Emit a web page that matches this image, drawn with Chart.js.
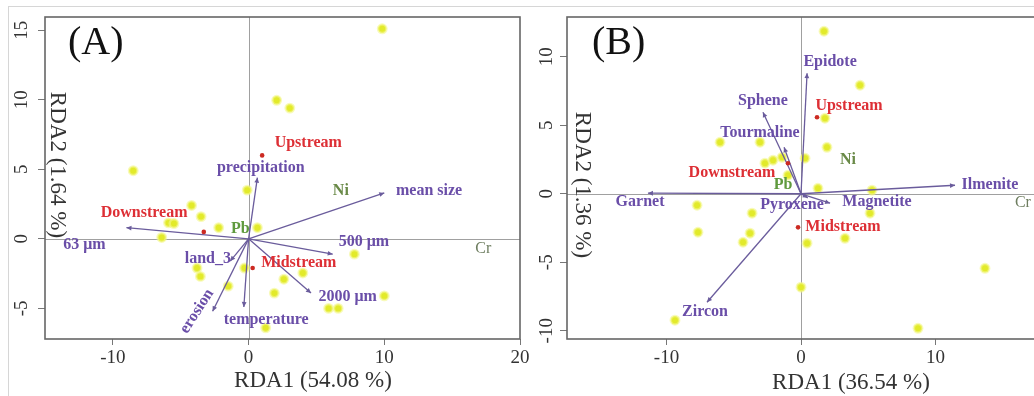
<!DOCTYPE html>
<html><head><meta charset="utf-8">
<script src="https://cdn.jsdelivr.net/npm/chart.js@4.4.1/dist/chart.umd.min.js"></script>
<style>
html,body{margin:0;padding:0;background:#fff;overflow:hidden;width:1034px;height:396px;position:relative;}
#frame{position:absolute;left:8px;top:6px;width:1100px;height:400px;border-left:1px solid #d6d6d6;border-top:1px solid #d6d6d6;}
#wa{position:absolute;left:0;top:0;}
#wb{position:absolute;left:520px;top:0;}
canvas{display:block;}
</style></head><body>
<div id="frame"></div>
<div id="wb"><canvas id="cb" width="560" height="396"></canvas></div>
<div id="wa"><canvas id="ca" width="540" height="396"></canvas></div>
<script>
// ---------- Panel A data ----------
const xTicksA = [-10, 0, 10, 20];
const yTicksA = [-5, 0, 5, 10, 15];
const siteAX = [9.85, 2.07, 3.04, -8.5, -0.1, -4.2, -3.5, -5.9, -5.5, -2.2, 0.65, -6.4, -3.8, -3.55, -0.3, -1.5, 1.9, 1.26, 2.6, 4.0, 7.8, 10.0, 5.9, 6.6];
const siteAY = [15.1, 9.96, 9.4, 4.9, 3.5, 2.4, 1.6, 1.15, 1.1, 0.8, 0.8, 0.1, -2.1, -2.7, -2.1, -3.4, -3.9, -6.4, -2.9, -2.45, -1.1, -4.1, -5.0, -5.0];
const groupNames = ['Upstream', 'Downstream', 'Midstream'];
const centroidAX = [1.0, -3.3, 0.3];
const centroidAY = [6.0, 0.5, -2.1];
const groupLabAX = [4.4, -7.7, 3.7];
const groupLabAY = [6.9, 1.9, -1.75];
const envNamesA = ['precipitation', 'mean size', '500 μm', '2000 μm', 'temperature', 'erosion', 'land_3', '63 μm'];
const envTipAX = [0.65, 10.0, 6.2, 4.6, -0.35, -2.65, -1.35, -9.0];
const envTipAY = [4.4, 3.3, -1.1, -3.9, -4.9, -5.2, -1.6, 0.8];
const envLabAX = [0.9, 13.3, 8.5, 7.3, 1.3, -3.8, -3.0, -12.1];
const envLabAY = [5.1, 3.45, -0.2, -4.2, -5.8, -5.2, -1.45, -0.45];
const envRotA = [0, 0, 0, 0, 0, -57, 0, 0];
const metalNames = ['Ni', 'Pb', 'Cr'];
const metalAX = [6.8, -0.6, 17.3];
const metalAY = [3.45, 0.7, -0.7];

// ---------- Panel B data ----------
const xTicksB = [-10, 0, 10];
const yTicksB = [-10, -5, 0, 5, 10];
const siteBX = [1.71, 4.39, 1.78, 1.93, -6.02, -3.05, -2.68, -2.08, -1.41, 0.3, -0.97, 1.26, 5.28, -7.73, -7.66, -3.64, -3.79, -4.31, 0.45, 3.27, 5.13, 0.0, -9.37, 8.7, 13.68];
const siteBY = [11.86, 7.92, 5.51, 3.39, 3.76, 3.76, 2.23, 2.45, 2.66, 2.59, 1.35, 0.4, 0.26, -0.84, -2.81, -1.42, -2.88, -3.54, -3.61, -3.25, -1.42, -6.82, -9.23, -9.82, -5.44];
const centroidBX = [1.19, -0.97, -0.22];
const centroidBY = [5.58, 2.23, -2.45];
const groupLabBX = [3.57, -5.13, 3.12];
const groupLabBY = [6.39, 1.5, -2.45];
const envNamesB = ['Epidote', 'Sphene', 'Tourmaline', 'Ilmenite', 'Garnet', 'Magnetite', 'Pyroxene', 'Zircon'];
const envTipBX = [0.45, -2.83, -1.26, 11.45, -11.38, 2.16, 0.5, -6.99];
const envTipBY = [8.8, 5.95, 3.39, 0.62, 0.04, -0.69, -0.3, -7.92];
const envLabBX = [2.16, -2.83, -3.05, 14.05, -11.97, 5.65, -0.67, -7.14];
const envLabBY = [9.6, 6.75, 4.41, 0.62, -0.62, -0.62, -0.84, -8.65];
const envRotB = [0, 0, 0, 0, 0, 0, 0, 0];
const metalBX = [3.49, -1.34, 16.5];
const metalBY = [2.45, 0.62, -0.69];

// ---------- styles ----------
const SERIF = '"Liberation Serif", "DejaVu Serif", serif';
const PURPLE = '#6a4ea8';
const ARROW = '#6a5c9c';
const RED = '#dd2f35';
const GREENS = ['#6a8a48', '#5f9a3e', '#6e7e60'];

const biplot = {
  id: 'biplot',
  beforeDatasetsDraw(chart, args, o) {
    const {ctx, chartArea: a, scales: {x, y}} = chart;
    ctx.save();
    ctx.strokeStyle = '#a0a0a0';
    ctx.lineWidth = 1;
    const px = Math.round(x.getPixelForValue(0)) + 0.5;
    const py = Math.round(y.getPixelForValue(0)) + 0.5;
    ctx.beginPath();
    ctx.moveTo(px, a.top); ctx.lineTo(px, a.bottom);
    ctx.moveTo(a.left, py); ctx.lineTo(a.right, py);
    ctx.stroke();
    ctx.restore();
  },
  afterDatasetsDraw(chart, args, o) {
    const {ctx, chartArea: a, scales: {x, y}} = chart;
    ctx.save();
    // arrowheads
    chart.data.datasets.forEach((ds, i) => {
      if (!ds.isArrow) return;
      const m = chart.getDatasetMeta(i);
      const p0 = m.data[0], p1 = m.data[1];
      const ang = Math.atan2(p1.y - p0.y, p1.x - p0.x);
      const L = 5, W = 2.4;
      ctx.fillStyle = ARROW;
      ctx.beginPath();
      ctx.moveTo(p1.x, p1.y);
      ctx.lineTo(p1.x - L * Math.cos(ang) + W * Math.sin(ang), p1.y - L * Math.sin(ang) - W * Math.cos(ang));
      ctx.lineTo(p1.x - L * Math.cos(ang) - W * Math.sin(ang), p1.y - L * Math.sin(ang) + W * Math.cos(ang));
      ctx.closePath();
      ctx.fill();
    });
    // text labels
    ctx.textAlign = 'center';
    ctx.textBaseline = 'middle';
    o.labels.forEach(l => {
      ctx.save();
      ctx.translate(x.getPixelForValue(l.x), y.getPixelForValue(l.y));
      if (l.rot) ctx.rotate(l.rot * Math.PI / 180);
      ctx.font = (l.bold ? 'bold ' : '') + '16px ' + SERIF;
      ctx.fillStyle = l.color;
      ctx.fillText(l.text, 0, 0);
      ctx.restore();
    });
    // plot frame
    ctx.strokeStyle = '#666';
    ctx.lineWidth = 1.6;
    ctx.strokeRect(a.left, a.top, a.right - a.left, a.bottom - a.top);
    // rotated y tick labels
    ctx.fillStyle = '#333';
    ctx.font = '19px ' + SERIF;
    y.ticks.forEach(t => {
      ctx.save();
      ctx.translate(o.yTickX, y.getPixelForValue(t.value));
      ctx.rotate(-Math.PI / 2);
      ctx.fillText(String(t.value), 0, 0);
      ctx.restore();
    });
    // axis titles and panel letter
    ctx.font = '23px ' + SERIF;
    ctx.fillText(o.xTitle, o.xTitlePos[0], o.xTitlePos[1]);
    ctx.save();
    ctx.translate(o.yTitlePos[0], o.yTitlePos[1]);
    ctx.rotate(Math.PI / 2);
    ctx.fillText(o.yTitle, 0, 0);
    ctx.restore();
    ctx.font = '40px ' + SERIF;
    ctx.textAlign = 'left';
    ctx.fillStyle = '#111';
    ctx.fillText(o.panel, o.panelPos[0], o.panelPos[1]);
    ctx.restore();
  }
};

function buildLabels(envN, envX, envY, envR, gX, gY, mX, mY) {
  const out = [];
  envN.forEach((t, i) => out.push({text: t, x: envX[i], y: envY[i], rot: envR[i], color: PURPLE, bold: true}));
  groupNames.forEach((t, i) => out.push({text: t, x: gX[i], y: gY[i], color: RED, bold: true}));
  metalNames.forEach((t, i) => out.push({text: t, x: mX[i], y: mY[i], color: GREENS[i], bold: t !== 'Cr'}));
  return out;
}

function makeChart(id, d) {
  const datasets = [];
  datasets.push({
    data: d.cx.map((v, i) => ({x: v, y: d.cy[i]})),
    pointRadius: 2.3, pointBackgroundColor: '#cc2a22', pointBorderWidth: 0
  });
  d.tx.forEach((v, i) => datasets.push({
    data: [{x: 0, y: 0}, {x: v, y: d.ty[i]}],
    showLine: true, borderColor: ARROW, borderWidth: 1.3, pointRadius: 0, isArrow: true
  }));
  datasets.push({
    data: d.sx.map((v, i) => ({x: v, y: d.sy[i]})),
    pointRadius: 4.2, pointBackgroundColor: '#e2ea2a',
    pointBorderColor: 'rgba(244,246,140,0.6)', pointBorderWidth: 2.5
  });
  return new Chart(document.getElementById(id), {
    type: 'scatter',
    data: {datasets},
    options: {
      responsive: false, animation: false, devicePixelRatio: 1,
      layout: {padding: d.padding},
      plugins: {legend: {display: false}, tooltip: {enabled: false}, biplot: d.plugin},
      scales: {
        x: {
          type: 'linear', min: d.xmin, max: d.xmax,
          afterBuildTicks: s => { s.ticks = d.xt.map(v => ({value: v})); },
          afterFit: s => { s.height = 57; s.paddingLeft = 0; s.paddingRight = 0; },
          border: {display: false},
          grid: {drawOnChartArea: false, drawTicks: true, tickLength: 6, color: '#777', lineWidth: 1},
          ticks: {font: {family: SERIF, size: 19}, color: '#333', padding: 2, maxRotation: 0, minRotation: 0}
        },
        y: {
          type: 'linear', min: d.ymin, max: d.ymax,
          afterBuildTicks: s => { s.ticks = d.yt.map(v => ({value: v})); },
          afterFit: s => { s.width = d.yw; s.paddingTop = 0; s.paddingBottom = 0; },
          border: {display: false},
          grid: {drawOnChartArea: false, drawTicks: true, tickLength: 7, color: '#777', lineWidth: 1},
          ticks: {display: false}
        }
      }
    },
    plugins: [biplot]
  });
}

makeChart('ca', {
  sx: siteAX, sy: siteAY, cx: centroidAX, cy: centroidAY, tx: envTipAX, ty: envTipAY,
  xmin: -15, xmax: 20, ymin: -7.2, ymax: 15.95, xt: xTicksA, yt: yTicksA, yw: 45,
  padding: {left: 0, right: 20, top: 17, bottom: 0},
  plugin: {
    labels: buildLabels(envNamesA, envLabAX, envLabAY, envRotA, groupLabAX, groupLabAY, metalAX, metalAY),
    yTickX: 22, xTitle: 'RDA1 (54.08 %)', xTitlePos: [313, 381],
    yTitle: 'RDA2 (1.64 %)', yTitlePos: [57, 165], panel: '(A)', panelPos: [68, 43]
  }
});

makeChart('cb', {
  sx: siteBX, sy: siteBY, cx: centroidBX, cy: centroidBY, tx: envTipBX, ty: envTipBY,
  xmin: -17.4, xmax: 20, ymin: -10.6, ymax: 12.9, xt: xTicksB, yt: yTicksB, yw: 47,
  padding: {left: 0, right: 10, top: 17, bottom: 0},
  plugin: {
    labels: buildLabels(envNamesB, envLabBX, envLabBY, envRotB, groupLabBX, groupLabBY, metalBX, metalBY),
    yTickX: 27, xTitle: 'RDA1 (36.54 %)', xTitlePos: [331, 383],
    yTitle: 'RDA2 (1.36 %)', yTitlePos: [62, 185], panel: '(B)', panelPos: [72, 43]
  }
});
</script>
</body></html>
